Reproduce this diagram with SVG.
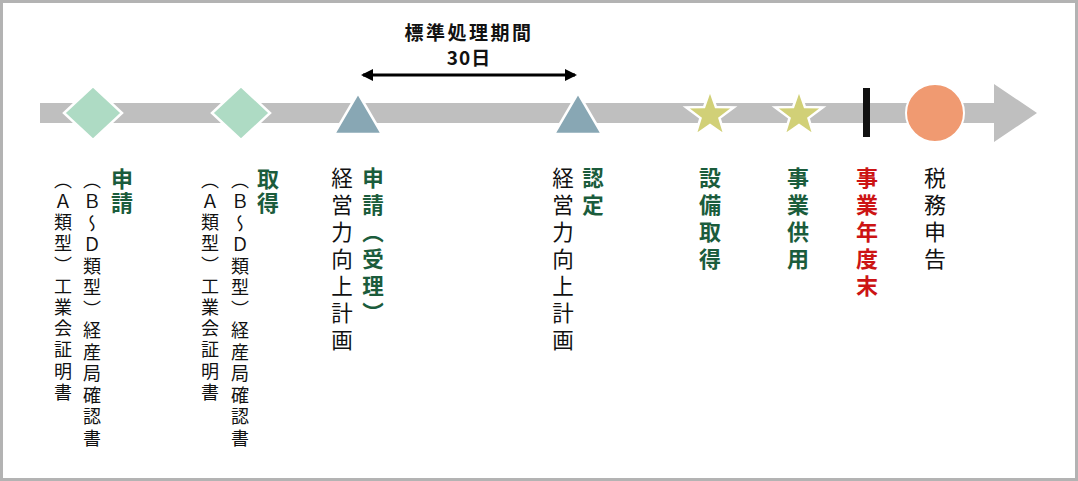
<svg xmlns="http://www.w3.org/2000/svg" width="1078" height="481" viewBox="0 0 1078 481">
<defs>
<style>
text{font-family:"Noto Sans CJK JP","Noto Sans",sans-serif;}
.v{writing-mode:vertical-rl;}
.g{fill:#1b5c3c;font-weight:bold;}
.r{fill:#cc1414;font-weight:bold;}
.k{fill:#111;}
.s1{font-size:18px;letter-spacing:3.2px;}
.s2{font-size:18px;letter-spacing:3.5px;}
.gl{font-size:22px;letter-spacing:2px;}
.m{font-size:21.5px;letter-spacing:5.5px;}
.rt{font-size:22px;letter-spacing:5px;}
.dia{fill:#aedbc4;stroke:#fff;stroke-width:2.5;}
.tri{fill:#88a7b4;stroke:#fff;stroke-width:2.5;}
.star{fill:#d1d077;stroke:#fff;stroke-width:2.5;}
</style>
<marker id="ah" viewBox="0 0 12 12" refX="10" refY="6" markerWidth="12" markerHeight="12" markerUnits="userSpaceOnUse" orient="auto-start-reverse">
<path d="M0,0 L12,6 L0,12 Z" fill="#000"/>
</marker>
</defs>
<rect x="0" y="0" width="1078" height="481" fill="#fff"/>
<rect x="1.5" y="1.5" width="1075" height="478" fill="none" stroke="#b3b3b3" stroke-width="3"/>

<g id="connectors">
<path id="timeline" d="M40,103 H994 V84 L1037,113 L994,142 V123 H40 Z" fill="#bfbfbf"/>
<line id="period-arrow" x1="363" y1="75" x2="575" y2="75" stroke="#000" stroke-width="3" marker-start="url(#ah)" marker-end="url(#ah)"/>
</g>

<g id="period-label">
<text x="469" y="40" text-anchor="middle" font-size="19" font-weight="bold" letter-spacing="2.5" fill="#111">標準処理期間</text>
<text x="469" y="65" text-anchor="middle" font-size="19" font-weight="bold" letter-spacing="1" fill="#111">30日</text>
</g>

<g id="node-apply">
<polygon class="dia" points="93,86 122,113 93,140 64,113"/>
<text class="v g gl" x="122" y="168">申請</text>
<text class="v k s2" x="92" y="171">（Ｂ～Ｄ類型）経産局確認書</text>
<text class="v k s1" x="63" y="171">（Ａ類型）工業会証明書</text>
</g>

<g id="node-acquire">
<polygon class="dia" points="241,86 270,113 241,140 212,113"/>
<text class="v g gl" x="268" y="168">取得</text>
<text class="v k s2" x="240" y="171">（Ｂ～Ｄ類型）経産局確認書</text>
<text class="v k s1" x="210" y="171">（Ａ類型）工業会証明書</text>
</g>

<g id="node-plan-apply">
<polygon class="tri" points="358,93 382,134 334,134"/>
<text class="v g m" x="373" y="167">申請（受理）</text>
<text class="v k m" x="342" y="167">経営力向上計画</text>
</g>

<g id="node-plan-approve">
<polygon class="tri" points="578,93 602,134 554,134"/>
<text class="v g m" x="593" y="167">認定</text>
<text class="v k m" x="563" y="167">経営力向上計画</text>
</g>

<g id="node-equip">
<polygon class="star" points="710,90 715.9,106.9 733.8,107.3 719.5,118.1 724.7,135.2 710,125 695.3,135.2 700.5,118.1 686.2,107.3 704.1,106.9"/>
<text class="v g rt" x="710" y="167">設備取得</text>
</g>

<g id="node-use">
<polygon class="star" points="799,90 804.9,106.9 822.8,107.3 808.5,118.1 813.7,135.2 799,125 784.3,135.2 789.5,118.1 775.2,107.3 793.1,106.9"/>
<text class="v g rt" x="798" y="167">事業供用</text>
</g>

<g id="node-yearend">
<rect x="863" y="88" width="7" height="49" fill="#111"/>
<text class="v r rt" x="867" y="167">事業年度末</text>
</g>

<g id="node-tax">
<circle cx="935" cy="113" r="29" fill="#f09a71" stroke="#fff" stroke-width="2"/>
<text class="v k rt" x="935" y="167">税務申告</text>
</g>
</svg>
